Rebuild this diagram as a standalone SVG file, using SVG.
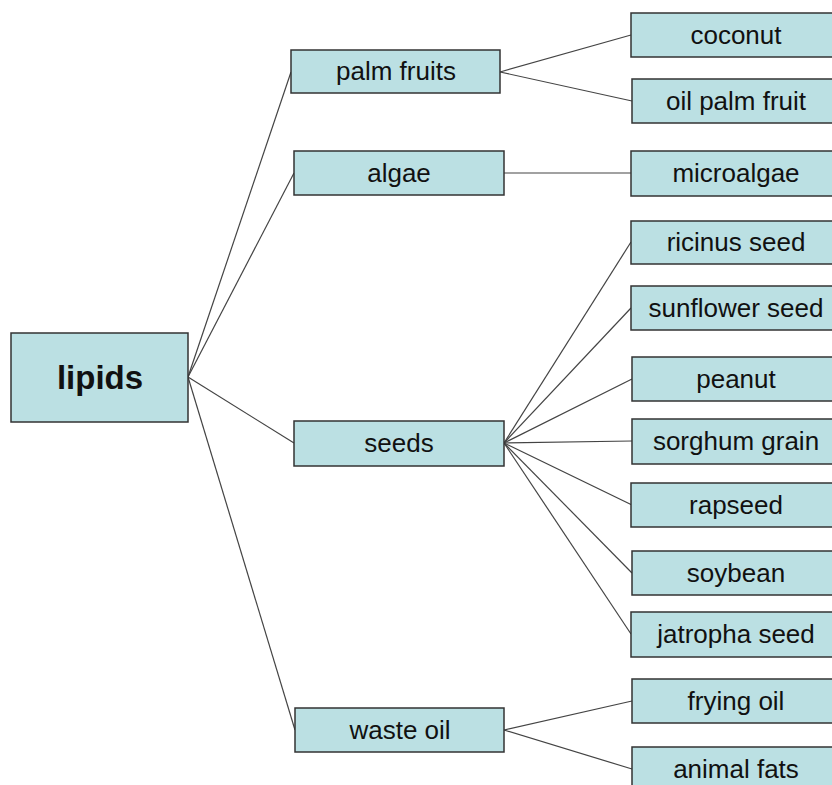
<svg xmlns="http://www.w3.org/2000/svg" width="832" height="785" viewBox="0 0 832 785">
<style>
.b{fill:#bbe0e3;stroke:#333;stroke-width:1.5}
.t{font-family:"Liberation Sans",Arial,sans-serif;font-size:26px;fill:#111;text-anchor:middle}
.r{font-weight:bold;font-size:33px}
.c line{stroke:#444;stroke-width:1.2}
</style>
<rect width="832" height="785" fill="#fff"/>
<g class="c">
<line x1="188" y1="377" x2="291" y2="72"/>
<line x1="188" y1="377" x2="294" y2="173"/>
<line x1="188" y1="377" x2="294" y2="443"/>
<line x1="188" y1="377" x2="295" y2="730"/>
<line x1="500" y1="72" x2="631" y2="35"/>
<line x1="500" y1="72" x2="632" y2="101"/>
<line x1="504" y1="173" x2="631" y2="173"/>
<line x1="504" y1="443" x2="631" y2="242"/>
<line x1="504" y1="443" x2="631" y2="308"/>
<line x1="504" y1="443" x2="632" y2="379"/>
<line x1="504" y1="443" x2="632" y2="441"/>
<line x1="504" y1="443" x2="632" y2="505"/>
<line x1="504" y1="443" x2="632" y2="573"/>
<line x1="504" y1="443" x2="631" y2="634"/>
<line x1="504" y1="730" x2="632" y2="701"/>
<line x1="504" y1="730" x2="632" y2="769"/>
</g>
<g id="lipids"><rect class="b" x="11" y="333" width="177" height="89"/><text class="t r" x="100" y="389">lipids</text></g>
<g id="palm_fruits"><rect class="b" x="291" y="50" width="209" height="43"/><text class="t" x="396" y="80">palm fruits</text></g>
<g id="algae"><rect class="b" x="294" y="151" width="210" height="44"/><text class="t" x="399" y="182">algae</text></g>
<g id="seeds"><rect class="b" x="294" y="421" width="210" height="45"/><text class="t" x="399" y="452">seeds</text></g>
<g id="waste_oil"><rect class="b" x="295" y="708" width="209" height="44"/><text class="t" x="400" y="739">waste oil</text></g>
<g id="coconut"><rect class="b" x="631" y="13" width="210" height="44"/><text class="t" x="736" y="44">coconut</text></g>
<g id="oil_palm_fruit"><rect class="b" x="632" y="79" width="210" height="44"/><text class="t" x="736" y="110">oil palm fruit</text></g>
<g id="microalgae"><rect class="b" x="631" y="151" width="210" height="45"/><text class="t" x="736" y="182">microalgae</text></g>
<g id="ricinus_seed"><rect class="b" x="631" y="221" width="210" height="43"/><text class="t" x="736" y="251">ricinus seed</text></g>
<g id="sunflower_seed"><rect class="b" x="631" y="286" width="210" height="44"/><text class="t" x="736" y="317">sunflower seed</text></g>
<g id="peanut"><rect class="b" x="632" y="357" width="210" height="44"/><text class="t" x="736" y="388">peanut</text></g>
<g id="sorghum_grain"><rect class="b" x="632" y="419" width="210" height="45"/><text class="t" x="736" y="450">sorghum grain</text></g>
<g id="rapseed"><rect class="b" x="631" y="483" width="210" height="44"/><text class="t" x="736" y="514">rapseed</text></g>
<g id="soybean"><rect class="b" x="632" y="551" width="210" height="44"/><text class="t" x="736" y="582">soybean</text></g>
<g id="jatropha_seed"><rect class="b" x="631" y="612" width="210" height="45"/><text class="t" x="736" y="643">jatropha seed</text></g>
<g id="frying_oil"><rect class="b" x="632" y="679" width="210" height="44"/><text class="t" x="736" y="710">frying oil</text></g>
<g id="animal_fats"><rect class="b" x="632" y="747" width="210" height="44"/><text class="t" x="736" y="778">animal fats</text></g>
</svg>
